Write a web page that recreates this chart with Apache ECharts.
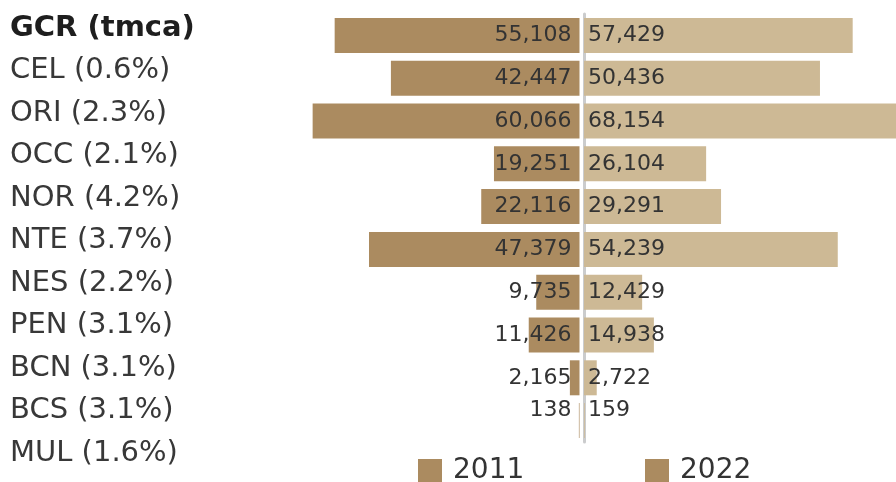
<!DOCTYPE html>
<html>
<head>
<meta charset="utf-8">
<script src="https://cdn.jsdelivr.net/npm/echarts@6/dist/echarts.min.js"></script>
<style>
  html, body { margin: 0; padding: 0; background: #ffffff; }
  #chart { width: 896px; height: 482px; }
</style>
</head>
<body>
<div id="chart"></div>
<script>
// Row labels in the left column (header first, MUL has no bars)
const rowLabels = ['GCR (tmca)', 'CEL (0.6%)', 'ORI (2.3%)', 'OCC (2.1%)', 'NOR (4.2%)',
  'NTE (3.7%)', 'NES (2.2%)', 'PEN (3.1%)', 'BCN (3.1%)', 'BCS (3.1%)', 'MUL (1.6%)'];
const seriesNames = ['2011', '2022'];
const values2011 = [55108, 42447, 60066, 19251, 22116, 47379, 9735, 11426, 2165, 138];
const values2022 = [57429, 50436, 68154, 26104, 29291, 54239, 12429, 14938, 2722, 159];

const DARK = '#ab8b60';
const LIGHT = '#cdb995';
const FONT = 'DejaVu Sans';
const barRows = rowLabels.slice(0, values2011.length);
const fmt = v => Number(v).toLocaleString('en-US');

// the last row's bars are hairlines, so its value labels sit a little higher
const withLabelLift = vals => vals.map((v, i) =>
  i === vals.length - 1 ? { value: v, label: { offset: [0, -10] } } : v);

const chart = echarts.init(document.getElementById('chart'), null, { renderer: 'canvas' });

const legendBase = {
  top: 457, padding: 0, icon: 'rect', itemWidth: 24, itemHeight: 24,
  selectedMode: false,
  textStyle: { fontFamily: FONT, fontSize: 28, color: '#333', padding: [0, 0, 0, 6] }
};

const option = {
  animation: false,
  backgroundColor: '#ffffff',
  textStyle: { fontFamily: FONT },
  legend: [
    Object.assign({ left: 418, data: [{ name: seriesNames[0], itemStyle: { color: DARK } }] }, legendBase),
    Object.assign({ left: 645, data: [{ name: seriesNames[1], itemStyle: { color: DARK } }] }, legendBase)
  ],
  grid: [
    // left half (2011), grows leftwards from the centre line
    { left: 268.5, width: 311, top: 14, height: 428, outerBoundsMode: 'none' },
    // right half (2022), runs past the right edge for the longest bar
    { left: 584, width: 327.5, top: 14, height: 428, outerBoundsMode: 'none' },
    // row label column
    { left: 250, width: 10, top: 6.75, height: 467.5, outerBoundsMode: 'none' }
  ],
  xAxis: [
    { gridIndex: 0, type: 'value', min: 0, max: 70000, inverse: true, show: false },
    { gridIndex: 1, type: 'value', min: 0, max: 70000, show: false },
    { gridIndex: 2, type: 'value', min: 0, max: 1, show: false }
  ],
  yAxis: [
    {
      gridIndex: 0, type: 'category', data: barRows, inverse: true,
      axisLine: { show: false }, axisTick: { show: false }, axisLabel: { show: false },
      splitLine: { show: false }
    },
    {
      gridIndex: 1, type: 'category', data: barRows, inverse: true, offset: 3,
      axisLine: { show: true, lineStyle: { color: '#cbcccd', width: 3 } },
      axisTick: { show: false }, axisLabel: { show: false }, splitLine: { show: false }
    },
    {
      gridIndex: 2, type: 'category', inverse: true,
      data: rowLabels.map((t, i) => i === 0
        ? { value: t, textStyle: { fontWeight: 'bold', color: '#1e1e1e', align: 'left' } }
        : t),
      axisLine: { show: false }, axisTick: { show: false }, splitLine: { show: false },
      axisLabel: {
        align: 'left', margin: 240, fontFamily: FONT, fontSize: 29, color: '#383838'
      }
    }
  ],
  series: [
    {
      name: seriesNames[0], type: 'bar', xAxisIndex: 0, yAxisIndex: 0,
      data: withLabelLift(values2011), barWidth: 35,
      itemStyle: { color: DARK },
      label: {
        show: true, position: 'insideRight', distance: 8,
        fontFamily: FONT, fontSize: 22, color: '#333',
        formatter: p => fmt(p.value)
      }
    },
    {
      name: seriesNames[1], type: 'bar', xAxisIndex: 1, yAxisIndex: 1,
      data: withLabelLift(values2022), barWidth: 35,
      itemStyle: { color: LIGHT },
      label: {
        show: true, position: 'insideLeft', distance: 4,
        fontFamily: FONT, fontSize: 22, color: '#333',
        formatter: p => fmt(p.value)
      }
    }
  ]
};

chart.setOption(option);
</script>
</body>
</html>
